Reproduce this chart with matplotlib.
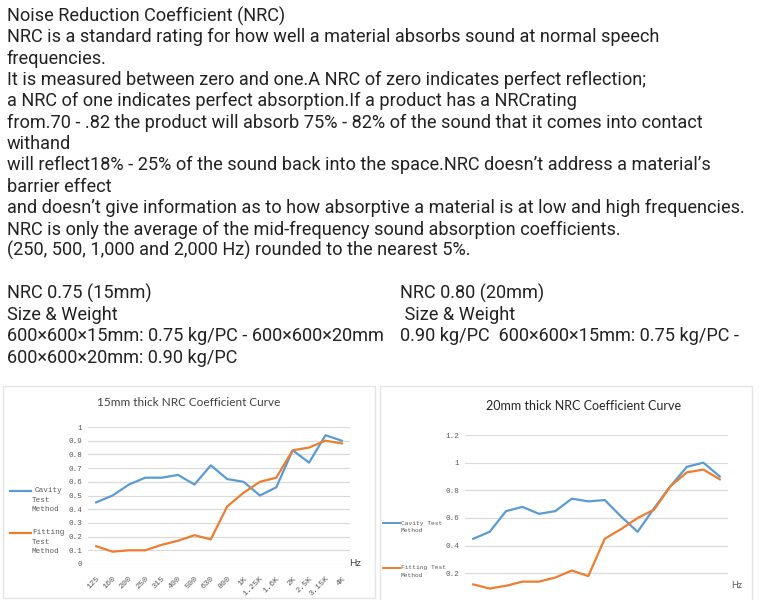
import matplotlib
matplotlib.use('Agg')
import matplotlib.pyplot as plt
from matplotlib.patches import Rectangle

W, H = 762, 612

# text block
intro_lines = [
    "Noise Reduction Coefficient (NRC)",
    "NRC is a standard rating for how well a material absorbs sound at normal speech",
    "frequencies.",
    "It is measured between zero and one.A NRC of zero indicates perfect reflection;",
    "a NRC of one indicates perfect absorption.If a product has a NRCrating",
    "from.70 - .82 the product will absorb 75% - 82% of the sound that it comes into contact",
    "withand",
    "will reflect18% - 25% of the sound back into the space.NRC doesn\u2019t address a material\u2019s",
    "barrier effect",
    "and doesn\u2019t give information as to how absorptive a material is at low and high frequencies.",
    "NRC is only the average of the mid-frequency sound absorption coefficients.",
    "(250, 500, 1,000 and 2,000 Hz) rounded to the nearest 5%.",
    "",
    "NRC 0.75 (15mm)",
    "Size & Weight",
    "600\u00d7600\u00d715mm: 0.75 kg/PC - 600\u00d7600\u00d720mm",
    "600\u00d7600\u00d720mm: 0.90 kg/PC",
]
right_col = {
    13: "NRC 0.80 (20mm)",
    14: " Size & Weight",
    15: "0.90 kg/PC  600\u00d7600\u00d715mm: 0.75 kg/PC -",
}

# chart data
freqs = ['125', '160', '200', '250', '315', '400', '500', '630', '800', '1K',
         '1.25K', '1.6K', '2K', '2.5K', '3.15K', '4K']
cavity_15 = [0.45, 0.50, 0.58, 0.63, 0.63, 0.65, 0.58, 0.72, 0.62, 0.60,
             0.50, 0.56, 0.83, 0.74, 0.94, 0.90]
fitting_15 = [0.13, 0.09, 0.10, 0.10, 0.14, 0.17, 0.21, 0.18, 0.42, 0.52,
              0.60, 0.63, 0.83, 0.85, 0.90, 0.88]
cavity_20 = [0.45, 0.50, 0.65, 0.68, 0.63, 0.65, 0.74, 0.72, 0.73, 0.61,
             0.50, 0.67, 0.83, 0.97, 1.00, 0.90]
fitting_20 = [0.12, 0.09, 0.11, 0.14, 0.14, 0.17, 0.22, 0.18, 0.45, 0.52,
              0.60, 0.66, 0.83, 0.93, 0.95, 0.88]

BLUE = '#5b9bd5'
ORANGE = '#ed7d31'

main_font = 'Roboto'
mono = 'Liberation Mono'
title_font = 'Lato'


def fx(x):
    return x / W


def fy(y):
    return 1 - y / H


def px_axes(x0, y0, x1, y1):
    return [fx(x0), fy(y1), (x1 - x0) / W, (y1 - y0) / H]


fig = plt.figure(figsize=(W / 100, H / 100), dpi=100)
fig.patch.set_facecolor('white')

# text paragraph
for i, line in enumerate(intro_lines):
    if line:
        fig.text(fx(7), fy(16 + 21.35 * i), line, family=main_font,
                 fontsize=13.1, color='#222222', va='center', ha='left')
for i, line in right_col.items():
    fig.text(fx(400), fy(16 + 21.35 * i), line, family=main_font,
             fontsize=13.1, color='#222222', va='center', ha='left')

# chart panels
for x0, x1, y1 in [(3, 375, 598), (380, 752, 612)]:
    fig.add_artist(Rectangle((fx(x0), fy(y1)), (x1 - x0) / W, (y1 - 386) / H,
                             transform=fig.transFigure, fill=False,
                             ec='#e4e4e4', lw=1.0))


def style(ax, ymax, step, xlabels=True, zero_label=True):
    ax.set_xlim(-0.5, len(freqs) - 0.5)
    ax.set_ylim(0, ymax)
    ticks = [round(step * k, 2) for k in range(int(round(ymax / step)) + 1)]
    ax.set_yticks(ticks)
    labels = [('%g' % t) for t in ticks]
    if not zero_label:
        labels[0] = ''
    ax.set_yticklabels(labels, family=mono, fontsize=5.5, color='#595959')
    ax.set_xticks(range(len(freqs)))
    if xlabels:
        ax.set_xticklabels(freqs, rotation=45, ha='right', va='top',
                           rotation_mode='anchor', family=mono, fontsize=6,
                           color='#595959')
    else:
        ax.set_xticklabels([])
    ax.tick_params(length=0, pad=4)
    ax.tick_params(axis='x', pad=8)
    for s in ax.spines.values():
        s.set_visible(False)
    ax.grid(axis='y', color='#d9d9d9', lw=0.8)
    ax.set_axisbelow(True)
    ax.patch.set_alpha(0)


# 15mm chart
ax1 = fig.add_axes(px_axes(88, 427, 350, 564))
ax1.plot(range(len(freqs)), cavity_15, color=BLUE, lw=1.6)
ax1.plot(range(len(freqs)), fitting_15, color=ORANGE, lw=1.6)
style(ax1, 1.0, 0.1)
fig.text(fx(189), fy(402), "15mm thick NRC Coefficient Curve", family=title_font,
         fontsize=8.5, color='#404040', ha='center', va='center')
fig.text(fx(349), fy(564), "Hz", family=title_font, fontsize=7, color='#404040',
         ha='left', va='center')

# legend 15mm
for y, lbl, c in [(491, ["Cavity", "Test", "Method"], BLUE),
                  (533, ["Fitting", "Test", "Method"], ORANGE)]:
    fig.add_artist(plt.Line2D([fx(10), fx(31)], [fy(y), fy(y)], color=c, lw=1.6,
                              transform=fig.transFigure))
    for k, t in enumerate(lbl):
        xo = 35 if k == 0 and c == BLUE else 32
        fig.text(fx(xo), fy(y + 9.3 * k), t, family=mono, fontsize=5.5,
                 color='#595959', ha='left', va='center')

# 20mm chart (bottom of it is cut off in the screenshot)
ax2 = fig.add_axes(px_axes(465, 435, 728, 601))
ax2.plot(range(len(freqs)), cavity_20, color=BLUE, lw=1.6)
ax2.plot(range(len(freqs)), fitting_20, color=ORANGE, lw=1.6)
style(ax2, 1.2, 0.2, xlabels=False, zero_label=False)
fig.text(fx(584), fy(406), "20mm thick NRC Coefficient Curve", family=title_font,
         fontsize=9, color='#262626', ha='center', va='center')
fig.text(fx(731), fy(586), "Hz", family=title_font, fontsize=6.5,
         color='#595959', ha='left', va='center')

for y, lbl, c in [(523, ["Cavity Test", "Method"], BLUE),
                  (568, ["Fitting Test", "Method"], ORANGE)]:
    fig.add_artist(plt.Line2D([fx(383), fx(400)], [fy(y), fy(y)], color=c, lw=1.4,
                              transform=fig.transFigure))
    for k, t in enumerate(lbl):
        fig.text(fx(401), fy(y + 7.5 * k), t, family=mono, fontsize=4.5,
                 color='#595959', ha='left', va='center')

# the screenshot ends just below the charts
fig.add_artist(Rectangle((0, 0), 1, 12 / H, transform=fig.transFigure,
                         fc='white', ec='none', zorder=20))

fig.savefig('out.png', dpi=100)
